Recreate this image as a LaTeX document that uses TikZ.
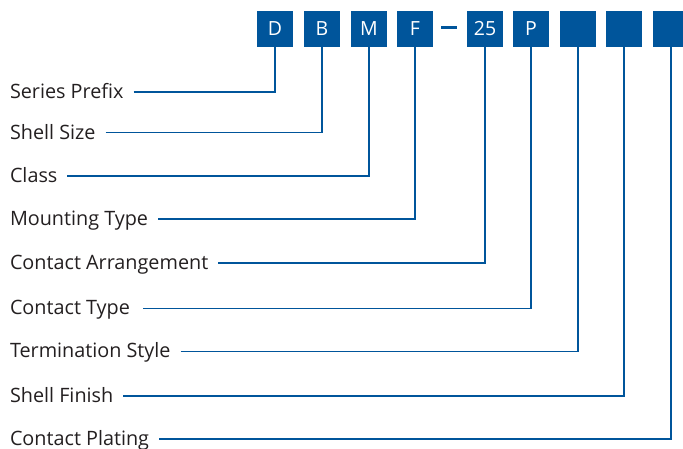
\documentclass[tikz,border=0pt]{standalone}
\usepackage{fontspec}
\setmainfont{Open Sans}
\definecolor{cblue}{RGB}{0,85,155}
\definecolor{ctext}{RGB}{35,31,32}
\tikzset{
  codebox/.style={fill=cblue, minimum size=35.6pt, inner sep=0pt, text=white, font=\fontsize{19.5}{22}\selectfont},
  lbl/.style={anchor=west, inner xsep=0pt, inner ysep=0pt, outer xsep=10pt, text height=14pt, text depth=1pt, text=ctext, font=\fontsize{19.8}{22}\selectfont},
  conn/.style={draw=cblue, line width=1.6pt}
}
\begin{document}
\begin{tikzpicture}[x=1pt,y=-1pt]
\useasboundingbox (0,0) rectangle (683,449);
\node[codebox] (bD) at (275,28.8) {D};
\node[codebox] (bB) at (322,28.8) {B};
\node[codebox] (bM) at (369,28.8) {M};
\node[codebox] (bF) at (415,28.8) {F};
\node[codebox] (b25) at (485,28.8) {25};
\node[codebox] (bP) at (531,28.8) {P};
\node[codebox] (b7) at (578,28.8) {};
\node[codebox] (b8) at (624,28.8) {};
\node[codebox] (b9) at (670.8,28.8) {};
\draw[cblue, line width=2.7pt] (441,27.3) -- (457.3,27.3);
\node[lbl] (l1) at (0,92.3) {Series Prefix};
\node[lbl] (l2) at (0,132.7) {Shell Size};
\node[lbl] (l3) at (0,176.3) {Class};
\node[lbl] (l4) at (0,219.3) {Mounting Type};
\node[lbl] (l5) at (0,263.3) {Contact Arrangement};
\node[lbl] (l6) at (0,308.3) {Contact Type};
\node[lbl] (l7) at (0,351.3) {Termination Style};
\node[lbl] (l8) at (0,395.7) {Shell Finish};
\node[lbl] (l9) at (0,439) {Contact Plating};
\draw[conn] (l1.east) -| (bD.south);
\draw[conn] (l2.east) -| (bB.south);
\draw[conn] (l3.east) -| (bM.south);
\draw[conn] (l4.east) -| (bF.south);
\draw[conn] (l5.east) -| (b25.south);
\draw[conn] ([xshift=3.5pt]l6.east) -| (bP.south);
\draw[conn] (l7.east) -| (b7.south);
\draw[conn] (l8.east) -| (b8.south);
\draw[conn] (l9.east) -| (b9.south);
\end{tikzpicture}
\end{document}
